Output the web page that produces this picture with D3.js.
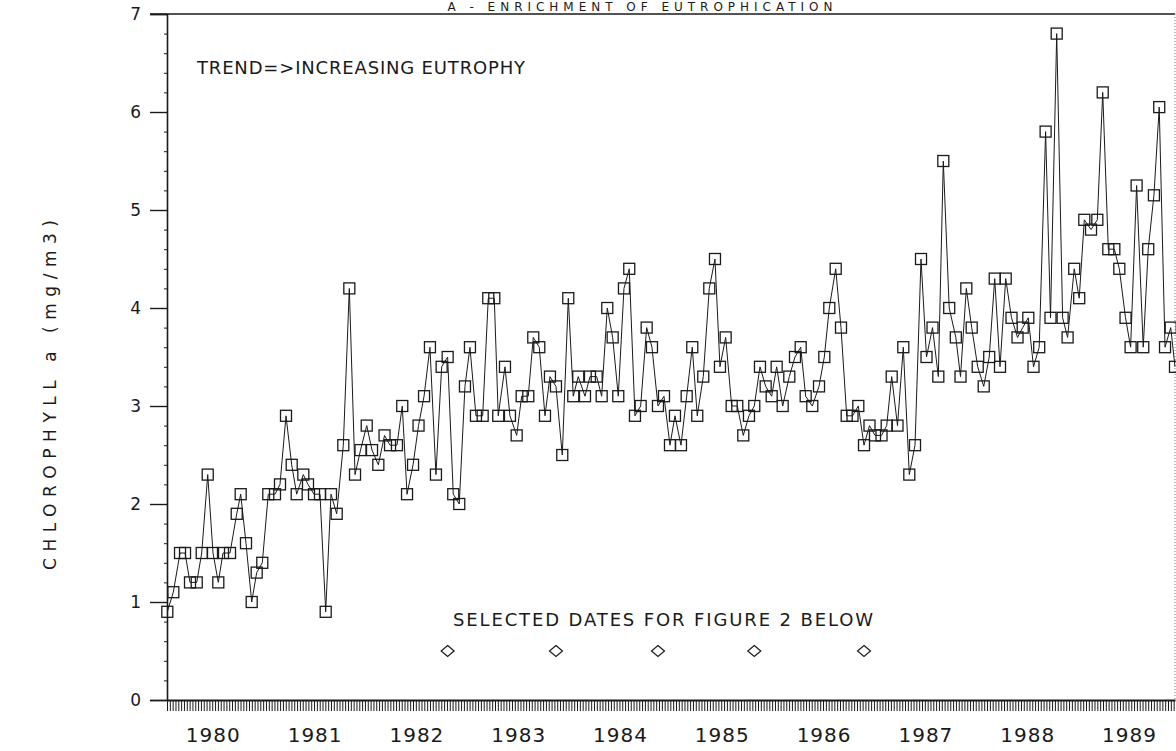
<!DOCTYPE html>
<html><head><meta charset="utf-8">
<script src="https://cdn.jsdelivr.net/npm/d3@7"></script>
<style>
html,body{margin:0;padding:0;background:#fff;}
svg{display:block;}
text{font-family:"DejaVu Sans", sans-serif; fill:#1a1a1a;}
</style></head><body>
<svg id="chart" width="1176" height="751"></svg>
<script>
// ---- data (decimal year, chlorophyll a mg/m3) ----
const dates = [
1980.003,1980.062,1980.128,1980.177,1980.226,1980.292,1980.341,1980.400,1980.452,1980.504,
1980.550,1980.619,1980.685,1980.724,1980.776,1980.832,1980.881,1980.936,1980.995,1981.061,
1981.110,1981.169,1981.225,1981.274,1981.339,1981.385,1981.444,1981.503,1981.559,1981.611,
1981.667,1981.732,1981.791,1981.847,1981.901,1981.962,1982.014,1982.076,1982.137,1982.191,
1982.259,1982.311,1982.358,1982.417,1982.471,1982.525,1982.583,1982.642,1982.698,1982.757,
1982.812,1982.871,1982.927,1982.976,1983.035,1983.101,1983.156,1983.215,1983.254,1983.320,
1983.369,1983.435,1983.484,1983.549,1983.598,1983.657,1983.713,1983.762,1983.821,1983.883,
1983.942,1983.991,1984.040,1984.106,1984.155,1984.221,1984.270,1984.325,1984.378,1984.433,
1984.489,1984.541,1984.597,1984.653,1984.712,1984.764,1984.823,1984.882,1984.941,1984.990,
1985.049,1985.105,1985.160,1985.209,1985.268,1985.327,1985.383,1985.432,1985.488,1985.547,
1985.602,1985.661,1985.717,1985.769,1985.825,1985.881,1985.940,1985.989,1986.048,1986.113,
1986.169,1986.225,1986.274,1986.339,1986.405,1986.457,1986.506,1986.569,1986.621,1986.677,
1986.734,1986.791,1986.847,1986.901,1986.955,1987.019,1987.070,1987.119,1987.176,1987.233,
1987.292,1987.348,1987.407,1987.461,1987.520,1987.577,1987.626,1987.684,1987.749,1987.795,
1987.852,1987.905,1987.964,1988.023,1988.077,1988.131,1988.183,1988.239,1988.296,1988.355,
1988.406,1988.461,1988.512,1988.568,1988.631,1988.679,1988.740,1988.798,1988.847,1988.912,
1988.961,1989.011,1989.077,1989.139,1989.192,1989.247,1989.306,1989.355,1989.416,1989.466,
1989.525,1989.590,1989.639,1989.695,1989.747,1989.804,1989.860,1989.902];
const chlorophyll = [
0.9,1.1,1.5,1.5,1.2,1.2,1.5,2.3,1.5,1.2,
1.5,1.5,1.9,2.1,1.6,1.0,1.3,1.4,2.1,2.1,
2.2,2.9,2.4,2.1,2.3,2.2,2.1,2.1,0.9,2.1,
1.9,2.6,4.2,2.3,2.55,2.8,2.55,2.4,2.7,2.6,
2.6,3.0,2.1,2.4,2.8,3.1,3.6,2.3,3.4,3.5,
2.1,2.0,3.2,3.6,2.9,2.9,4.1,4.1,2.9,3.4,
2.9,2.7,3.1,3.1,3.7,3.6,2.9,3.3,3.2,2.5,
4.1,3.1,3.3,3.1,3.3,3.3,3.1,4.0,3.7,3.1,
4.2,4.4,2.9,3.0,3.8,3.6,3.0,3.1,2.6,2.9,
2.6,3.1,3.6,2.9,3.3,4.2,4.5,3.4,3.7,3.0,
3.0,2.7,2.9,3.0,3.4,3.2,3.1,3.4,3.0,3.3,
3.5,3.6,3.1,3.0,3.2,3.5,4.0,4.4,3.8,2.9,
2.9,3.0,2.6,2.8,2.7,2.7,2.8,3.3,2.8,3.6,
2.3,2.6,4.5,3.5,3.8,3.3,5.5,4.0,3.7,3.3,
4.2,3.8,3.4,3.2,3.5,4.3,3.4,4.3,3.9,3.7,
3.8,3.9,3.4,3.6,5.8,3.9,6.8,3.9,3.7,4.4,
4.1,4.9,4.8,4.9,6.2,4.6,4.6,4.4,3.9,3.6,
5.25,3.6,4.6,5.15,6.05,3.6,3.8,3.4];
const selectedDates = [1982.757, 1983.821, 1984.823, 1985.769, 1986.847];
const selectedLevel = 0.5;
const yearLabels = ["1980","1981","1982","1983","1984","1985","1986","1987","1988","1989"];
const yTickValues = [0,1,2,3,4,5,6,7];
const titleText = "A - ENRICHMENT OF EUTROPHICATION";
const trendText = "TREND=>INCREASING EUTROPHY";
const selectedText = "SELECTED DATES FOR FIGURE 2 BELOW";
const yTitle = "CHLOROPHYLL a (mg/m3)";

// ---- scales ----
const svg = d3.select("#chart");
const x = d3.scaleLinear().domain([1980, 1989.902]).range([167, 1175]);
const y = d3.scaleLinear().domain([0, 7]).range([700, 14]);
const ink = "#1a1a1a";

// frame: top and right border
svg.append("line").attr("x1", 150).attr("x2", 1175).attr("y1", y(7)).attr("y2", y(7))
  .attr("stroke", ink).attr("stroke-width", 1.6);
svg.append("line").attr("x1", 1175).attr("x2", 1175).attr("y1", y(7)).attr("y2", y(0))
  .attr("stroke", "#777").attr("stroke-width", 1).attr("stroke-dasharray", "1,2");

// y axis
const yAxis = svg.append("g").attr("transform", `translate(${x(1980)},0)`)
  .call(d3.axisLeft(y).tickValues(yTickValues).tickSize(17).tickPadding(9).tickFormat(d3.format("d")));
yAxis.select(".domain").attr("stroke", ink).attr("stroke-width", 1.6);
yAxis.selectAll(".tick line").attr("stroke", ink).attr("stroke-width", 1.4);
yAxis.selectAll("text").attr("font-size", 17).attr("fill", ink);

// y minor ticks
const yMinor = d3.range(0, 7.001, 0.2).filter(v => Math.abs(v - Math.round(v)) > 0.01);
svg.append("g").attr("transform", `translate(${x(1980)},0)`)
  .call(d3.axisLeft(y).tickValues(yMinor).tickSize(3).tickFormat(""))
  .call(g => g.select(".domain").remove())
  .selectAll(".tick line").attr("stroke", ink).attr("stroke-width", 1);

// x axis minor ticks
const xMinor = d3.range(0, 357).map(i => 1980 + i / 36);
const xAxis = svg.append("g").attr("transform", `translate(0,${y(0)})`)
  .call(d3.axisBottom(x).tickValues(xMinor).tickSize(11).tickFormat("").tickSizeOuter(0));
xAxis.select(".domain").attr("stroke", ink).attr("stroke-width", 2);
xAxis.selectAll(".tick line").attr("stroke", ink).attr("stroke-width", 1);

// x year labels
const yearAxis = svg.append("g").attr("transform", `translate(0,${y(0)})`)
  .call(d3.axisBottom(x).tickValues(yearLabels.map(s => +s + 0.45)).tickSize(0).tickPadding(28)
    .tickFormat((d, i) => yearLabels[i]));
yearAxis.select(".domain").remove();
yearAxis.selectAll("text").attr("font-size", 20).attr("fill", ink).attr("letter-spacing", 1);

// data line
const pts = dates.map((d, i) => [d, chlorophyll[i]]);
svg.append("path").datum(pts)
  .attr("fill", "none").attr("stroke", ink).attr("stroke-width", 1)
  .attr("d", d3.line().x(d => x(d[0])).y(d => y(d[1])));

// square markers
const s = 11;
svg.append("g").selectAll("rect").data(pts).join("rect")
  .attr("x", d => x(d[0]) - s / 2).attr("y", d => y(d[1]) - s / 2)
  .attr("width", s).attr("height", s)
  .attr("fill", "none").attr("stroke", ink).attr("stroke-width", 1.3);

// selected dates diamonds
svg.append("g").selectAll("path").data(selectedDates).join("path")
  .attr("transform", d => `translate(${x(d)},${y(selectedLevel)})`)
  .attr("d", "M0,-5.5L6.5,0L0,5.5L-6.5,0Z")
  .attr("fill", "none").attr("stroke", ink).attr("stroke-width", 1.2);

// annotations
svg.append("text").attr("x", 197).attr("y", 74).attr("font-size", 18)
  .attr("textLength", 328).attr("lengthAdjust", "spacing").text(trendText);
svg.append("text").attr("x", 453).attr("y", 626).attr("font-size", 18)
  .attr("textLength", 420).attr("lengthAdjust", "spacing").text(selectedText);
svg.append("text").attr("x", 640).attr("y", 11).attr("font-size", 12)
  .attr("text-anchor", "middle").attr("textLength", 385).attr("lengthAdjust", "spacing").text(titleText);

// y title
svg.append("text").attr("transform", "translate(56,395) rotate(-90)")
  .attr("text-anchor", "middle").attr("font-size", 17)
  .attr("textLength", 350).attr("lengthAdjust", "spacing").text(yTitle);
</script>
</body></html>
